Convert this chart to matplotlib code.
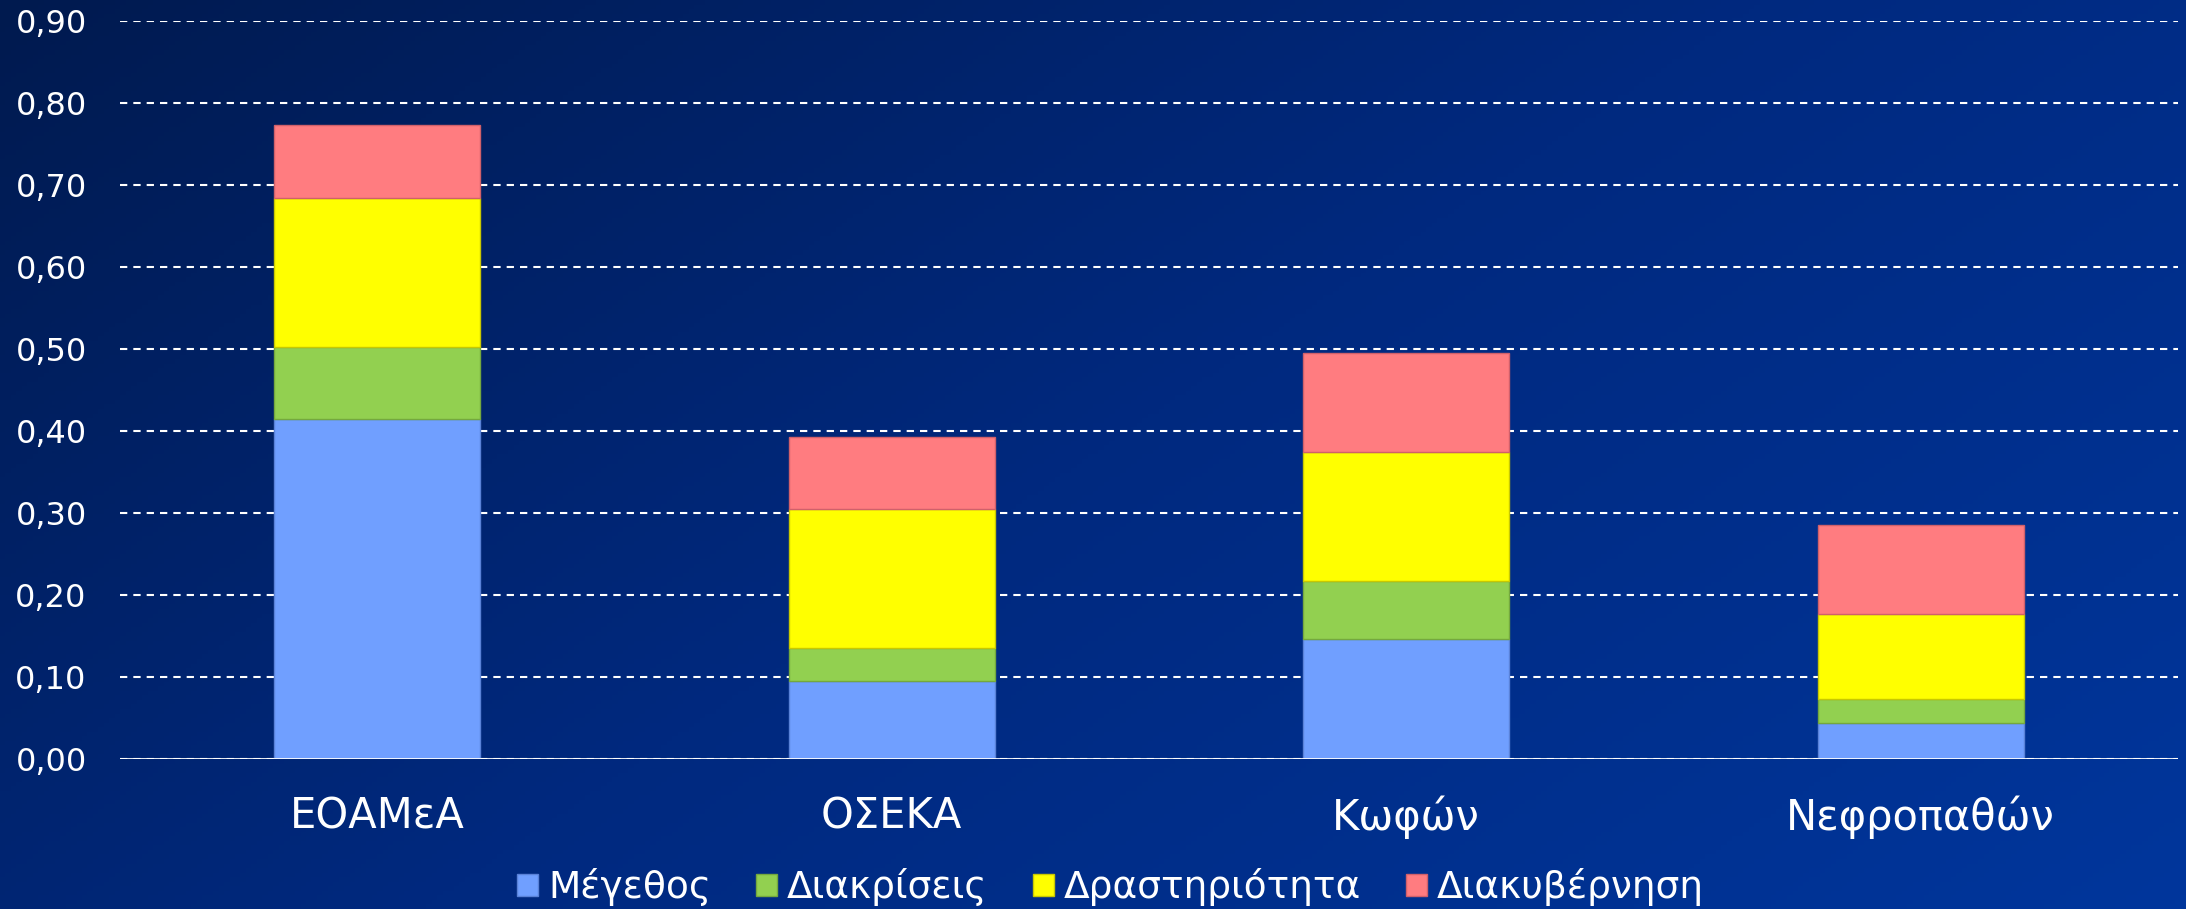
import numpy as np
import matplotlib
matplotlib.use("Agg")
import matplotlib.pyplot as plt
from matplotlib.ticker import FuncFormatter, MultipleLocator
from matplotlib.colors import LinearSegmentedColormap

categories = ['ΕΟΑΜεΑ', 'ΟΣΕΚΑ', 'Κωφών', 'Νεφροπαθών']
series_names = ['Μέγεθος', 'Διακρίσεις', 'Δραστηριότητα', 'Διακυβέρνηση']
megethos = [0.415, 0.095, 0.146, 0.044]
diakriseis = [0.087, 0.040, 0.071, 0.029]
drastiriotita = [0.182, 0.170, 0.157, 0.104]
diakyvernisi = [0.089, 0.088, 0.121, 0.108]

colors = ['#709FFF', '#92D050', '#FFFF00', '#FF7C80']
edges = ['#5a82d8', '#74a83e', '#c8c800', '#d0606a']

plt.rcParams['font.family'] = ['DejaVu Sans']

fig = plt.figure(figsize=(21.86, 9.09), dpi=100)

# diagonal gradient background
bg = fig.add_axes([0, 0, 1, 1], zorder=-10)
gx, gy = np.meshgrid(np.linspace(0, 1, 400), np.linspace(0, 1, 200))
grad = 0.62 * gx + 0.38 * gy
cmap = LinearSegmentedColormap.from_list('bg', ['#001a4f', '#00297f', '#00369c'])
bg.imshow(grad, cmap=cmap, aspect='auto', extent=[0, 1, 0, 1], origin='upper')
bg.axis('off')

ax = fig.add_axes([0.0549, 0.165, 0.9414, 0.812])
ax.patch.set_alpha(0)

x = np.arange(len(categories))
bottom = np.zeros(len(categories))
for vals, name, c, ec in zip([megethos, diakriseis, drastiriotita, diakyvernisi],
                             series_names, colors, edges):
    ax.bar(x, vals, width=0.4, bottom=bottom, color=c, edgecolor=ec,
           linewidth=1, label=name, zorder=3)
    bottom += np.array(vals)

ax.set_xlim(-0.5, 3.5)
ax.set_ylim(0, 0.9)
ax.yaxis.set_major_locator(MultipleLocator(0.1))
ax.yaxis.set_major_formatter(FuncFormatter(lambda v, p: f"{v:.2f}".replace('.', ',')))
ax.grid(axis='y', color='white', linewidth=1.5, dashes=(3.5, 2.9), zorder=1)
ax.set_axisbelow(True)
ax.axhline(0, color='white', linewidth=2, zorder=4)

for s in ax.spines.values():
    s.set_visible(False)

ax.set_xticks(x)
ax.set_xticklabels(categories)
ax.tick_params(axis='x', length=0, pad=26, labelsize=30, labelcolor='white')
ax.tick_params(axis='y', length=0, pad=24, labelsize=23, labelcolor='white')

fig.legend(loc='center', bbox_to_anchor=(0.508, 0.024), ncol=4, frameon=False,
           fontsize=27, labelcolor='white', handlelength=0.56, handleheight=0.56,
           handletextpad=0.27, columnspacing=1.2, borderaxespad=0)

fig.savefig('out.png', dpi=100)
